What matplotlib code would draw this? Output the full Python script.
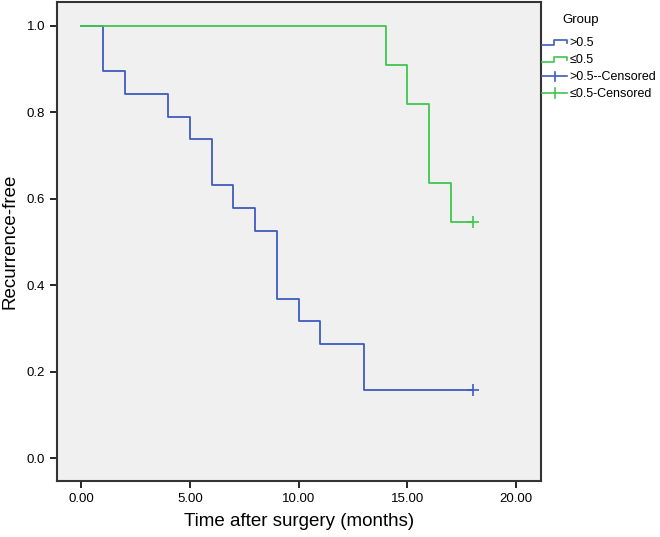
import matplotlib
matplotlib.use("Agg")
import matplotlib.pyplot as plt
from matplotlib.lines import Line2D
from matplotlib.legend_handler import HandlerBase

plt.rcParams['font.family'] = ['Liberation Sans', 'DejaVu Sans']

# Kaplan-Meier step curves
high_time = [0, 1, 2, 4, 5, 6, 7, 8, 9, 10, 11, 13, 18]
high_surv = [1.0, 0.895, 0.842, 0.789, 0.737, 0.632, 0.579, 0.526, 0.368, 0.316, 0.263, 0.158, 0.158]
low_time = [0, 14, 15, 16, 17, 18]
low_surv = [1.0, 0.909, 0.818, 0.636, 0.545, 0.545]
high_cens = ([18], [0.158])
low_cens = ([18], [0.545])

blue = '#3f5cbf'
green = '#3fc64f'

x_ticks = [0, 5, 10, 15, 20]
y_ticks = [0.0, 0.2, 0.4, 0.6, 0.8, 1.0]


class StepHandler(HandlerBase):
    def create_artists(self, legend, orig, xd, yd, w, h, fontsize, trans):
        xs = [xd, xd + w * 0.45, xd + w * 0.45, xd + w, xd + w]
        ys = [yd + h * 0.15, yd + h * 0.15, yd + h * 0.7, yd + h * 0.7, yd + h * 0.4]
        return [Line2D(xs, ys, color=orig.get_color(), lw=1.2, transform=trans)]


class CensorHandler(HandlerBase):
    def create_artists(self, legend, orig, xd, yd, w, h, fontsize, trans):
        ln = Line2D([xd, xd + w], [yd + h * 0.4] * 2, color=orig.get_color(), lw=1.2, transform=trans)
        tk = Line2D([xd + w * 0.5] * 2, [yd - h * 0.15, yd + h * 0.95], color=orig.get_color(),
                    lw=1.2, transform=trans)
        return [ln, tk]


fig = plt.figure(figsize=(6.6, 5.37), dpi=100)
ax = fig.add_axes([0.086, 0.104, 0.733, 0.892])
ax.set_facecolor('#f0f0f0')

l1, = ax.step(high_time, high_surv, where='post', color=blue, lw=1.3)
l2, = ax.step(low_time, low_surv, where='post', color=green, lw=1.3)
c1, = ax.plot(*high_cens, '+', color=blue, ms=8, mew=1.2)
c2, = ax.plot(*low_cens, '+', color=green, ms=8, mew=1.2)

ax.set_xlim(-1.13, 21.13)
ax.set_ylim(-0.053, 1.054)
ax.set_xticks(x_ticks)
ax.set_xticklabels(['%.2f' % t for t in x_ticks])
ax.set_yticks(y_ticks)
ax.set_yticklabels(['%.1f' % t for t in y_ticks])
ax.tick_params(direction='out', length=5, width=1.2, labelsize=9.5, colors='black')
for s in ax.spines.values():
    s.set_linewidth(1.5)
    s.set_color('#333333')

ax.set_xlabel('Time after surgery (months)', fontsize=13.5, labelpad=6)
ax.set_ylabel('Recurrence-free', fontsize=13.5, labelpad=6)

leg = fig.legend([l1, l2, c1, c2], ['>0.5', '\u22640.5', '>0.5--Censored', '\u22640.5-Censored'],
                 handler_map={l1: StepHandler(), l2: StepHandler(), c1: CensorHandler(), c2: CensorHandler()},
                 loc='upper left', bbox_to_anchor=(0.818, 0.978), frameon=False,
                 title='Group', fontsize=9, title_fontsize=9.5,
                 handlelength=2.0, handletextpad=0.15, labelspacing=0.38, borderaxespad=0,
                 borderpad=0.2)
leg._legend_box.align = 'left'
leg._legend_box.sep = 8
leg.get_title().set_position((20, 0))

fig.savefig('out.png', dpi=100)
